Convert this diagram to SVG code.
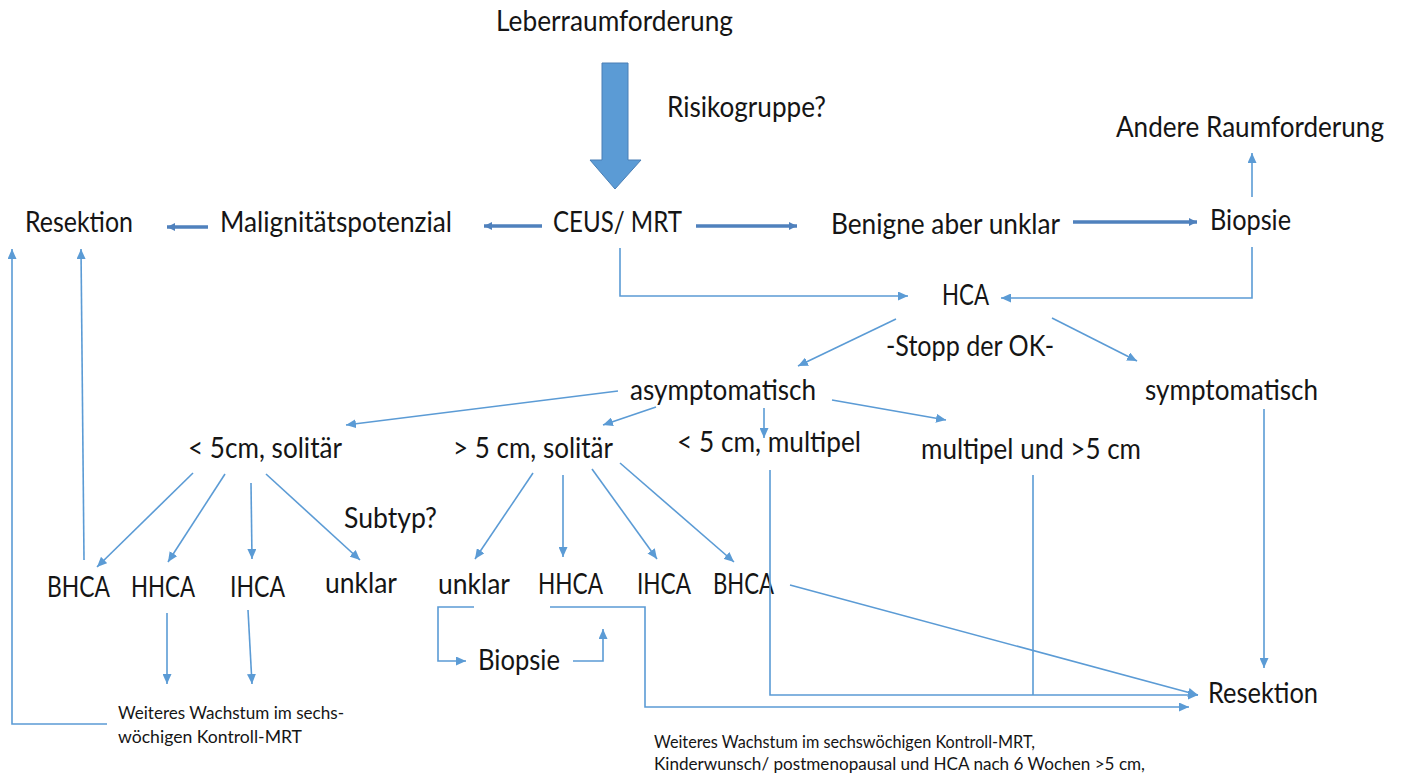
<svg xmlns="http://www.w3.org/2000/svg" width="1402" height="778" viewBox="0 0 1402 778">
<defs>
<style>
text{font-family:Lato,"Open Sans","Liberation Sans",sans-serif;fill:#151515}
.m{font-size:28px}
.s{font-size:17px}
.t{fill:none;stroke:#5b9bd5;stroke-width:1.6}
.k{fill:none;stroke:#4f81bd;stroke-width:3.6}
</style>
<marker id="ah" markerUnits="userSpaceOnUse" markerWidth="11" markerHeight="9" refX="10" refY="4.5" orient="auto"><path d="M0,0 L10,4.5 L0,9 z" fill="#5b9bd5"/></marker>
<marker id="ak" markerUnits="userSpaceOnUse" markerWidth="9" markerHeight="9" refX="8" refY="4.5" orient="auto"><path d="M0,0.5 L8,4.5 L0,8.5 z" fill="#4f81bd"/></marker>
</defs>
<rect width="1402" height="778" fill="#fff"/>
<g id="n-leber"><text class="m" x="496" y="31" textLength="237" lengthAdjust="spacingAndGlyphs">Leberraumforderung</text></g>
<g id="bigarrow"><polygon points="602,63 628,63 628,160 641,160 615,189 590,160 602,160" fill="#5b9bd5" stroke="#4a7fb5" stroke-width="1"/></g>
<g id="n-risiko"><text class="m" x="667" y="117" textLength="159" lengthAdjust="spacingAndGlyphs">Risikogruppe?</text></g>
<g id="n-andere"><text class="m" x="1116" y="137" textLength="268" lengthAdjust="spacingAndGlyphs">Andere Raumforderung</text></g>
<g id="n-resektion1"><text class="m" x="25" y="232" textLength="108" lengthAdjust="spacingAndGlyphs">Resektion</text></g>
<g id="n-malign"><text class="m" x="220" y="232" textLength="232" lengthAdjust="spacingAndGlyphs">Malignitätspotenzial</text></g>
<g id="n-ceus"><text class="m" x="553" y="232" textLength="129" lengthAdjust="spacingAndGlyphs">CEUS/ MRT</text></g>
<g id="n-benigne"><text class="m" x="831" y="234" textLength="229" lengthAdjust="spacingAndGlyphs">Benigne aber unklar</text></g>
<g id="n-biopsie1"><text class="m" x="1210" y="230" textLength="81" lengthAdjust="spacingAndGlyphs">Biopsie</text></g>
<g id="n-hca"><text class="m" x="942" y="305" textLength="47" lengthAdjust="spacingAndGlyphs">HCA</text></g>
<g id="n-stopp"><text class="m" x="886" y="356" textLength="168" lengthAdjust="spacingAndGlyphs">-Stopp der OK-</text></g>
<g id="n-asym"><text class="m" x="630" y="400" textLength="186" lengthAdjust="spacingAndGlyphs">asymptomatisch</text></g>
<g id="n-sym"><text class="m" x="1145" y="400" textLength="173" lengthAdjust="spacingAndGlyphs">symptomatisch</text></g>
<g id="n-lt5sol"><text class="m" x="188" y="458" textLength="154" lengthAdjust="spacingAndGlyphs">&lt; 5cm, solitär</text></g>
<g id="n-gt5sol"><text class="m" x="453" y="458" textLength="160" lengthAdjust="spacingAndGlyphs">&gt; 5 cm, solitär</text></g>
<g id="n-lt5mul"><text class="m" x="677" y="452" textLength="184" lengthAdjust="spacingAndGlyphs">&lt; 5 cm, multipel</text></g>
<g id="n-mulgt5"><text class="m" x="921" y="459" textLength="220" lengthAdjust="spacingAndGlyphs">multipel und &gt;5 cm</text></g>
<g id="n-subtyp"><text class="m" x="344" y="528" textLength="93" lengthAdjust="spacingAndGlyphs">Subtyp?</text></g>
<g id="n-bhca1"><text class="m" x="47" y="597" textLength="63" lengthAdjust="spacingAndGlyphs">BHCA</text></g>
<g id="n-hhca1"><text class="m" x="131" y="597" textLength="64" lengthAdjust="spacingAndGlyphs">HHCA</text></g>
<g id="n-ihca1"><text class="m" x="230" y="597" textLength="55" lengthAdjust="spacingAndGlyphs">IHCA</text></g>
<g id="n-unklar1"><text class="m" x="325" y="593" textLength="72" lengthAdjust="spacingAndGlyphs">unklar</text></g>
<g id="n-unklar2"><text class="m" x="438" y="594" textLength="72" lengthAdjust="spacingAndGlyphs">unklar</text></g>
<g id="n-hhca2"><text class="m" x="538" y="594" textLength="65" lengthAdjust="spacingAndGlyphs">HHCA</text></g>
<g id="n-ihca2"><text class="m" x="637" y="594" textLength="54" lengthAdjust="spacingAndGlyphs">IHCA</text></g>
<g id="n-bhca2"><text class="m" x="713" y="594" textLength="61" lengthAdjust="spacingAndGlyphs">BHCA</text></g>
<g id="n-biopsie2"><text class="m" x="478" y="670" textLength="82" lengthAdjust="spacingAndGlyphs">Biopsie</text></g>
<g id="n-resektion2"><text class="m" x="1208" y="703" textLength="110" lengthAdjust="spacingAndGlyphs">Resektion</text></g>
<g id="n-note1"><text class="s" x="118" y="719" textLength="226" lengthAdjust="spacingAndGlyphs">Weiteres Wachstum im sechs-</text><text class="s" x="118" y="743" textLength="184" lengthAdjust="spacingAndGlyphs">wöchigen Kontroll-MRT</text></g>
<g id="n-note2"><text class="s" x="654" y="748" textLength="381" lengthAdjust="spacingAndGlyphs">Weiteres Wachstum im sechswöchigen Kontroll-MRT,</text><text class="s" x="654" y="770" textLength="491" lengthAdjust="spacingAndGlyphs">Kinderwunsch/ postmenopausal und HCA nach 6 Wochen &gt;5 cm,</text></g>
<g id="connectors">
<path class="k" d="M208,227 H167" marker-end="url(#ak)"/>
<path class="k" d="M542,226 H484" marker-end="url(#ak)"/>
<path class="k" d="M696,226 H797" marker-end="url(#ak)"/>
<path class="k" d="M1073,222 H1197" marker-end="url(#ak)"/>
<path class="t" d="M1252,197 V153" marker-end="url(#ah)"/>
<path class="t" d="M1252,247 V298 H1001" marker-end="url(#ah)"/>
<path class="t" d="M620,248 V296 H908" marker-end="url(#ah)"/>
<path class="t" d="M896,319 L798,366" marker-end="url(#ah)"/>
<path class="t" d="M1052,318 L1137,361" marker-end="url(#ah)"/>
<path class="t" d="M618,391 L346,425" marker-end="url(#ah)"/>
<path class="t" d="M656,407 L603,425" marker-end="url(#ah)"/>
<path class="t" d="M764,408 V438" marker-end="url(#ah)"/>
<path class="t" d="M832,400 L946,420" marker-end="url(#ah)"/>
<path class="t" d="M1264,409 V668" marker-end="url(#ah)"/>
<path class="t" d="M193,473 L97,567" marker-end="url(#ah)"/>
<path class="t" d="M225,474 L168,562" marker-end="url(#ah)"/>
<path class="t" d="M251,483 L252,559" marker-end="url(#ah)"/>
<path class="t" d="M266,474 L360,560" marker-end="url(#ah)"/>
<path class="t" d="M84,560 L81,249" marker-end="url(#ah)"/>
<path class="t" d="M107,724 H12 V249" marker-end="url(#ah)"/>
<path class="t" d="M167,613 V684" marker-end="url(#ah)"/>
<path class="t" d="M248,610 L252,684" marker-end="url(#ah)"/>
<path class="t" d="M533,473 L475,559" marker-end="url(#ah)"/>
<path class="t" d="M563,475 V557" marker-end="url(#ah)"/>
<path class="t" d="M592,469 L657,559" marker-end="url(#ah)"/>
<path class="t" d="M620,463 L734,562" marker-end="url(#ah)"/>
<path class="t" d="M474,607 H438 V661 H466" marker-end="url(#ah)"/>
<path class="t" d="M573,661 H603 V629" marker-end="url(#ah)"/>
<path class="t" d="M550,607 H645 V707 H1189" marker-end="url(#ah)"/>
<path class="t" d="M770,470 V695 H1198" marker-end="url(#ah)"/>
<path class="t" d="M1033,475 V695"/>
<path class="t" d="M790,585 L1198,695" marker-end="url(#ah)"/>
</g>
</svg>
